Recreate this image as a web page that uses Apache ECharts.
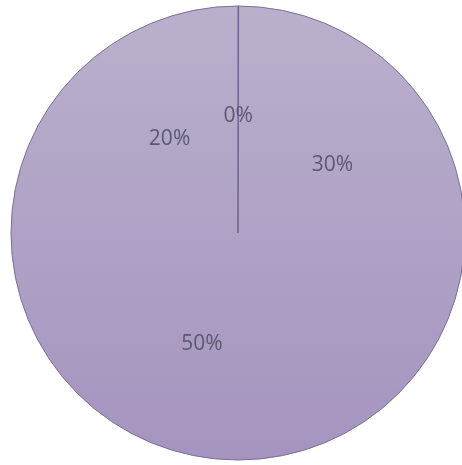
<!DOCTYPE html>
<html><head><meta charset="utf-8">
<script src="https://cdn.jsdelivr.net/npm/echarts@6/dist/echarts.min.js"></script>
<style>html,body{margin:0;padding:0;background:#fff}#c{width:462px;height:465px}</style>
</head><body><div id="c"></div>
<script>
const categories = ['A', 'B', 'C', 'D'];
const values = [0, 30, 50, 20];

const chart = echarts.init(document.getElementById('c'));
const cx = 238, cy = 233, r = 227;
const fill = {type:'linear', x:0, y:cy-r, x2:0, y2:cy+r, global:true,
  colorStops:[{offset:0,color:'#bab0cc'},{offset:1,color:'#a494bf'}]};
chart.setOption({
  animation:false,
  series:[{
    type:'pie', center:[cx,cy], radius:[0,r], silent:true, label:{show:false},
    itemStyle:{color:fill, borderColor:'#7a6f98', borderWidth:1},
    data:[{name:'background', value:1}]
  },{
    type:'pie', center:[cx,cy], radius:[0,r], startAngle:90, clockwise:true,
    silent:true, avoidLabelOverlap:false, minAngle:0.15,
    label:{show:true, position:'inside', formatter:'{d}%', color:'#5c586f',
      fontFamily:'Open Sans', fontSize:21},
    labelLine:{show:false},
    itemStyle:{color:'rgba(0,0,0,0)', borderWidth:0},
    data: categories.map((c,i)=>({name:c, value:values[i],
      itemStyle: values[i]===0 ? {borderColor:'#6e6390', borderWidth:1} : {borderWidth:0}}))
  }]
});
</script></body></html>
